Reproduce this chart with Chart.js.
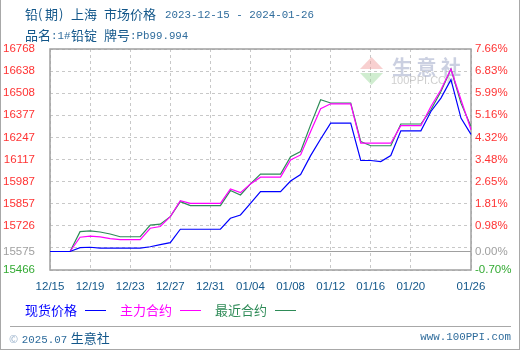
<!DOCTYPE html>
<html>
<head>
<meta charset="utf-8">
<script src="https://cdn.jsdelivr.net/npm/chart.js@4.4.1/dist/chart.umd.min.js"></script>
<style>
body { margin: 0; background: #fff; }
#wrap { position: relative; width: 520px; height: 350px; overflow: hidden; font-family: "Noto Sans CJK SC", sans-serif; }
#chart { position: absolute; left: 0; top: 0; }
#edge { position: absolute; left: 0; top: 0; width: 520px; height: 350px; box-sizing: border-box; border: 1px solid #a8a8a8; border-top: none; pointer-events: none; }
.t { position: absolute; white-space: nowrap; line-height: 16px; }
.cn { font-family: "Noto Sans CJK SC", sans-serif; font-size: 13px; color: #13578a; }
.mono { font-family: "Liberation Mono", monospace; font-size: 10.8px; color: #2f6c9c; }
.leg { font-family: "Noto Sans CJK SC", sans-serif; font-size: 13px; }
.dash { position: absolute; height: 1px; width: 21px; }
#rule { position: absolute; left: 10px; top: 326px; width: 501px; height: 1px; background: #a8a8a8; }
</style>
</head>
<body>
<div id="wrap">
  <canvas id="chart" width="520" height="350"></canvas>
  <div class="t cn" style="left:25px;top:6px">铅</div>
  <div class="t cn" style="left:38px;top:6px">(</div>
  <div class="t cn" style="left:45px;top:6px">期</div>
  <div class="t cn" style="left:59px;top:6px">)</div>
  <div class="t cn" style="left:71px;top:6px">上海</div>
  <div class="t cn" style="left:104px;top:6px">市场价格</div>
  <div class="t mono" style="left:165px;top:7px">2023-12-15 - 2024-01-26</div>

  <div class="t cn" style="left:25px;top:27px">品名</div>
  <div class="t mono" style="left:51px;top:28px">:1#</div>
  <div class="t cn" style="left:71px;top:27px">铅锭</div>
  <div class="t cn" style="left:104px;top:27px">牌号</div>
  <div class="t mono" style="left:130px;top:28px">:Pb99.994</div>

  <div class="t leg" style="left:25px;top:302px;color:#0000ff">现货价格</div>
  <div class="dash" style="left:85px;top:310px;background:#0000ff"></div>
  <div class="t leg" style="left:120px;top:302px;color:#ff00ff">主力合约</div>
  <div class="dash" style="left:180px;top:310px;background:#ff00ff"></div>
  <div class="t leg" style="left:215px;top:302px;color:#2e8b57">最近合约</div>
  <div class="dash" style="left:275px;top:310px;background:#2e8b57"></div>

  <div id="rule"></div>
  <div class="t" style="left:9px;top:328px"><span style="font-size:11px;color:#9bb3cc">©</span> <span class="mono">2025.07</span> <span class="cn">生意社</span></div>
  <div class="t mono" style="right:9px;top:329px">www.100PPI.com</div>
  <div id="edge"></div>
</div>
<script>
// calendar days, weekends carry the last value
var dates = ['12/15','12/16','12/17','12/18','12/19','12/20','12/21','12/22','12/23','12/24',
  '12/25','12/26','12/27','12/28','12/29','12/30','12/31','01/01','01/02','01/03',
  '01/04','01/05','01/06','01/07','01/08','01/09','01/10','01/11','01/12','01/13',
  '01/14','01/15','01/16','01/17','01/18','01/19','01/20','01/21','01/22','01/23',
  '01/24','01/25','01/26'];
var xLabels = ['12/15','12/19','12/23','12/27','12/31','01/04','01/08','01/12','01/16','01/20','01/26'];

var spotPrice = [15575,15575,15575,15598,15600,15595,15595,15595,15595,15595,
  15603,15615,15627,15706,15706,15706,15706,15706,15771,15790,
  15859,15928,15928,15928,15990,16028,16140,16238,16331,16331,
  16331,16111,16111,16105,16140,16286,16286,16286,16400,16479,
  16587,16361,16265];
var mainContract = [15575,15575,15575,15659,15665,15661,15651,15645,15645,15645,
  15712,15722,15780,15875,15859,15859,15859,15859,15944,15922,
  15973,16013,16013,16013,16115,16144,16282,16416,16445,16445,
  16445,16213,16213,16213,16213,16316,16316,16316,16429,16528,
  16650,16469,16292];
var nearContract = [15575,15575,15575,15692,15696,15690,15678,15662,15662,15662,
  15730,15736,15780,15869,15845,15845,15845,15845,15934,15908,
  15973,16031,16031,16031,16134,16164,16321,16469,16450,16450,
  16450,16223,16198,16198,16198,16326,16326,16326,16410,16518,
  16650,16449,16311];

var baseValue = 15575;
var yTicks = [15466, 15575, 15596.2, 15726.4, 15856.6, 15986.8, 16117, 16247.2, 16377.4, 16507.6, 16637.8, 16768];
var leftLabels = ['15466','15575','','15726','15857','15987','16117','16247','16377','16508','16638','16768'];
var rightLabels = ['-0.70%','0.00%','','0.98%','1.81%','2.65%','3.48%','4.32%','5.16%','5.99%','6.83%','7.66%'];

function labelColor(ctx) {
  if (ctx.index === 0) return '#33aa33';
  if (ctx.index === 1) return '#a0a0a0';
  return '#ff3333';
}

var framePlugin = {
  id: 'frame',
  beforeDatasetsDraw: function(chart) {
    var a = chart.chartArea, c = chart.ctx;
    var wx = a.right - 111, wy = a.top + 8;
    c.save();
    // watermark
    c.fillStyle = 'rgba(240,150,150,0.45)';
    c.beginPath(); c.moveTo(wx, wy + 12); c.lineTo(wx + 23, wy + 12); c.lineTo(wx + 11.5, wy); c.closePath(); c.fill();
    c.fillStyle = 'rgba(150,215,150,0.45)';
    c.beginPath(); c.moveTo(wx, wy + 16); c.lineTo(wx + 23, wy + 16); c.lineTo(wx + 11.5, wy + 28); c.closePath(); c.fill();
    c.fillStyle = 'rgba(160,170,200,0.55)';
    c.font = 'bold 20px "Noto Sans CJK SC"';
    c.textBaseline = 'middle';
    c.fillText('生 意 社', wx + 32, wy + 10);
    c.fillStyle = 'rgba(185,185,185,0.7)';
    c.font = '11px "Liberation Sans"';
    c.fillText('100PPI.COM', wx + 31, wy + 24);
    // base line
    var y0 = chart.scales.y.getPixelForValue(baseValue);
    c.strokeStyle = '#a0a0a0'; c.lineWidth = 1;
    c.beginPath(); c.moveTo(a.left, Math.round(y0) + 0.5); c.lineTo(a.right, Math.round(y0) + 0.5); c.stroke();
    // plot frame
    c.strokeStyle = '#a0a0a0'; c.lineWidth = 1.5;
    c.strokeRect(a.left, a.top, a.right - a.left, a.bottom - a.top);
    c.restore();
  }
};

var ctx = document.getElementById('chart').getContext('2d');
var chart = new Chart(ctx, {
  type: 'line',
  data: {
    labels: dates,
    datasets: [
      { label: '现货价格', data: spotPrice, borderColor: '#0000ff', borderWidth: 1.2, pointRadius: 0, tension: 0, yAxisID: 'y' },
      { label: '主力合约', data: mainContract, borderColor: '#ff00ff', borderWidth: 1.2, pointRadius: 0, tension: 0, yAxisID: 'y' },
      { label: '最近合约', data: nearContract, borderColor: '#2e8b57', borderWidth: 1.2, pointRadius: 0, tension: 0, yAxisID: 'y' }
    ]
  },
  options: {
    responsive: false,
    animation: false,
    layout: { padding: { top: 49, left: 0, right: 0, bottom: 0 } },
    plugins: { legend: { display: false }, tooltip: { enabled: false } },
    scales: {
      x: {
        type: 'category',
        offset: false,
        afterBuildTicks: function(scale) {
          scale.ticks = scale.ticks.filter(function(t) { return xLabels.indexOf(dates[t.value]) >= 0; });
        },
        afterFit: function(scale) { scale.height = 80; },
        ticks: {
          autoSkip: false, maxRotation: 0, padding: 10,
          color: '#13578a',
          font: { family: 'Liberation Sans', size: 11.5 },
          callback: function(v) { return dates[v]; }
        },
        grid: { color: '#c8c8c8', lineWidth: 1, drawTicks: false },
        border: { display: false, dash: [3, 3] }
      },
      y: {
        position: 'left',
        min: 15466, max: 16768,
        afterBuildTicks: function(scale) {
          scale.ticks = yTicks.map(function(v) { return { value: v }; });
        },
        afterFit: function(scale) { scale.width = 50; },
        ticks: {
          autoSkip: false, padding: 15,
          color: labelColor,
          font: { family: 'Liberation Sans', size: 11.5 },
          callback: function(v, i) { return leftLabels[i]; }
        },
        grid: {
          drawTicks: false, lineWidth: 1,
          color: function(c) { return (c.tick && c.tick.value === baseValue) ? 'rgba(0,0,0,0)' : '#c8c8c8'; }
        },
        border: { display: false, dash: [3, 3] }
      },
      y1: {
        position: 'right',
        min: 15466, max: 16768,
        afterBuildTicks: function(scale) {
          scale.ticks = yTicks.map(function(v) { return { value: v }; });
        },
        afterFit: function(scale) { scale.width = 49; },
        ticks: {
          autoSkip: false, padding: 4,
          color: labelColor,
          font: { family: 'Liberation Sans', size: 11.5 },
          callback: function(v, i) { return rightLabels[i]; }
        },
        grid: { display: false, drawTicks: false },
        border: { display: false }
      }
    }
  },
  plugins: [framePlugin]
});
</script>
</body>
</html>
